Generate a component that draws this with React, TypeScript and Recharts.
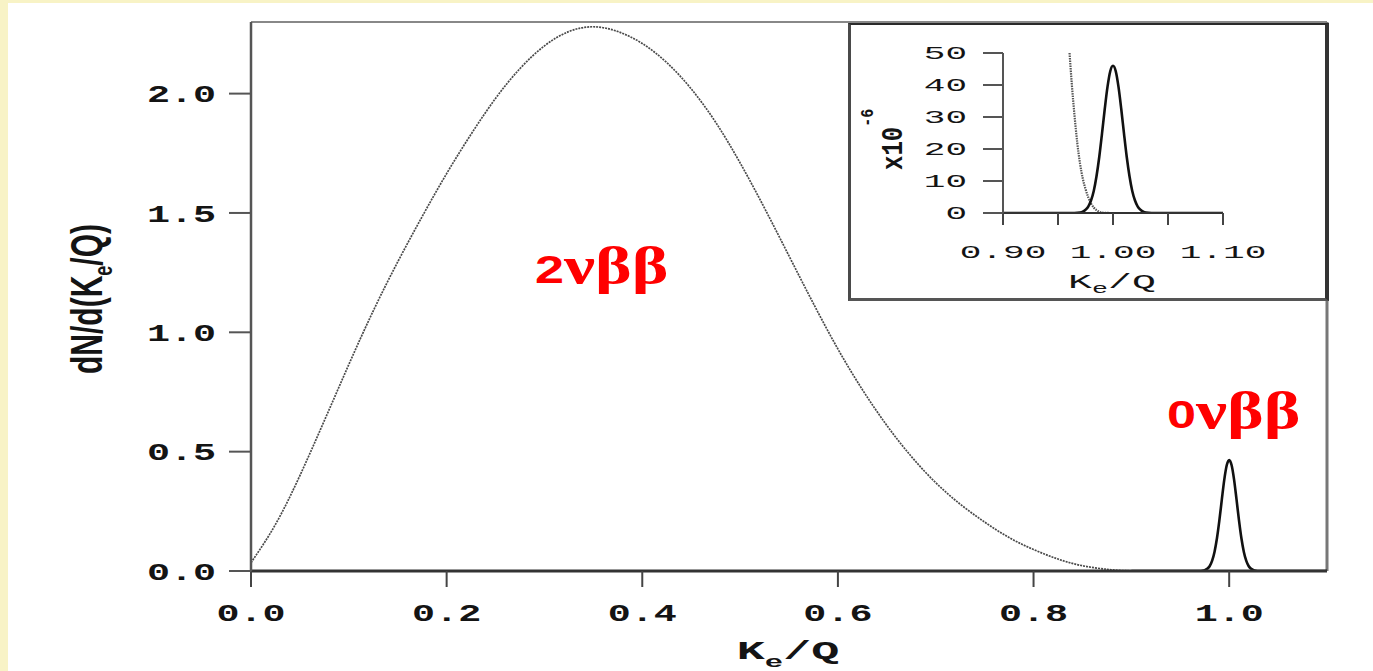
import React from 'react';
import { LineChart, Line, XAxis, YAxis, ReferenceLine } from 'recharts';

// Two-neutrino summed-electron spectrum, K_e/Q against dN/d(K_e/Q)
const twoNuK = [
  0, 0.025, 0.05, 0.075, 0.1, 0.125, 0.15, 0.175, 0.2, 0.225, 0.25, 0.275, 0.3, 0.325,
  0.35, 0.375, 0.4, 0.425, 0.45, 0.475, 0.5, 0.525, 0.55, 0.575, 0.6, 0.625, 0.65, 0.675,
  0.7, 0.725, 0.75, 0.775, 0.8, 0.825, 0.85, 0.875, 0.9, 0.95, 1.0, 1.05, 1.1,
];
const twoNuVal = [
  0.035, 0.195, 0.4, 0.63, 0.865, 1.09, 1.295, 1.485, 1.665, 1.83, 1.98, 2.105, 2.2, 2.26,
  2.28, 2.26, 2.21, 2.13, 2.02, 1.88, 1.71, 1.52, 1.32, 1.12, 0.93, 0.76, 0.61, 0.48,
  0.37, 0.28, 0.205, 0.14, 0.09, 0.05, 0.022, 0.007, 0.001, 0, 0, 0, 0,
];

// Neutrinoless peak at the endpoint (drawn enlarged on the main axes)
const zeroNuK = [
  0.9, 0.97, 0.9725, 0.975, 0.9775, 0.98, 0.9825, 0.985, 0.9875, 0.99, 0.9925, 0.995, 0.9975,
  1.0, 1.0025, 1.005, 1.0075, 1.01, 1.0125, 1.015, 1.0175, 1.02, 1.0225, 1.025, 1.0275, 1.03, 1.1,
];
const zeroNuVal = [
  0, 0, 0.001, 0.0035, 0.009, 0.02, 0.0425, 0.08, 0.137, 0.213, 0.3, 0.383, 0.443,
  0.465, 0.443, 0.383, 0.3, 0.213, 0.137, 0.08, 0.0425, 0.02, 0.009, 0.0035, 0.001, 0, 0,
];

// Inset, in units of 1e-6: tail of the two-neutrino spectrum
const insetTailK = [
  0.9605, 0.9625, 0.965, 0.9675, 0.97, 0.9725, 0.975, 0.9775, 0.98, 0.9825, 0.985, 0.9875,
  0.99, 0.995, 1.0, 1.05, 1.1,
];
const insetTailVal = [50, 40.5, 30.5, 22, 15.5, 10.8, 7.5, 4.9, 3.0, 1.7, 0.9, 0.4, 0.15, 0.02, 0, 0, 0];

// Inset, in units of 1e-6: the neutrinoless peak
const insetPeakK = [
  0.9, 0.965, 0.97, 0.9725, 0.975, 0.9775, 0.98, 0.9825, 0.985, 0.9875, 0.99, 0.9925, 0.995,
  0.9975, 1.0, 1.0025, 1.005, 1.0075, 1.01, 1.0125, 1.015, 1.0175, 1.02, 1.0225, 1.025, 1.0275,
  1.03, 1.035, 1.1,
];
const insetPeakVal = [
  0, 0, 0.15, 0.4, 1.0, 2.0, 3.9, 6.9, 11.5, 17.5, 24.8, 32.5, 39.4,
  44.3, 46, 44.3, 39.4, 32.5, 24.8, 17.5, 11.5, 6.9, 3.9, 2.0, 1.0, 0.4,
  0.15, 0, 0,
];

const mainXTicks = [0, 0.2, 0.4, 0.6, 0.8, 1.0];
const mainYTicks = [0, 0.5, 1.0, 1.5, 2.0];
const insetXTicks = [0.9, 0.95, 1.0, 1.05, 1.1];
const insetXLabelled = [0.9, 1.0, 1.1];
const insetYTicks = [0, 10, 20, 30, 40, 50];

const toRows = (ks: number[], vs: number[]) => ks.map((k, i) => ({ k, v: vs[i] }));
const twoNuData = toRows(twoNuK, twoNuVal);
const zeroNuData = toRows(zeroNuK, zeroNuVal);
const insetTailData = toRows(insetTailK, insetTailVal);
const insetPeakData = toRows(insetPeakK, insetPeakVal);

const MONO = '"Liberation Mono", "DejaVu Sans Mono", monospace';
const SANS = '"Liberation Sans", Arial, sans-serif';
const SERIF = '"Liberation Serif", "DejaVu Serif", serif';
const INK = '#141414';

const MainYTick = (p: any) => (
  <g transform={`translate(${p.x},${p.y}) scale(1.6,1)`}>
    <text x={0} y={0} dy="0.36em" textAnchor="end" fontFamily={MONO} fontWeight="bold" fontSize={24} fill={INK}>
      {Number(p.payload.value).toFixed(1)}
    </text>
  </g>
);

const MainXTick = (p: any) => (
  <g transform={`translate(${p.x},${p.y + 32}) scale(1.6,1)`}>
    <text x={0} y={0} textAnchor="middle" fontFamily={MONO} fontWeight="bold" fontSize={24} fill={INK}>
      {Number(p.payload.value).toFixed(1)}
    </text>
  </g>
);

const InsetYTick = (p: any) => (
  <g transform={`translate(${p.x},${p.y}) scale(2,1)`}>
    <text x={0} y={0} dy="0.36em" textAnchor="end" fontFamily={MONO} fontSize={18} fill={INK}>
      {String(p.payload.value)}
    </text>
  </g>
);

const InsetXTick = (p: any) => {
  const v = Number(p.payload.value);
  if (!insetXLabelled.some((t) => Math.abs(t - v) < 1e-9)) return <g />;
  return (
    <g transform={`translate(${p.x},${p.y + 31}) scale(1.9,1)`}>
      <text x={0} y={0} textAnchor="middle" fontFamily={MONO} fontSize={19} fill={INK}>
        {v.toFixed(2)}
      </text>
    </g>
  );
};

// Red process names: bold digit followed by serif Greek letters
const ProcessLabel = ({ x, y, digit }: { x: number; y: number; digit: string }) => (
  <text transform={`translate(${x},${y}) scale(1.45,1.1)`} fill="#ff0000" fontWeight="bold">
    <tspan fontFamily={SANS} fontSize={36}>{digit}</tspan>
    <tspan fontFamily={SERIF} fontSize={48}>νββ</tspan>
  </text>
);

export default function App() {
  return (
    <div style={{ position: 'fixed', left: 0, top: 0, width: 1373, height: 671, background: '#f8f3c6', overflow: 'hidden' }}>
      <div style={{ position: 'absolute', left: 8, top: 3, right: 0, bottom: 0, background: '#ffffff' }} />

      <div style={{ position: 'absolute', left: 0, top: 0 }}>
        <LineChart width={1373} height={671} margin={{ top: 22, right: 46, bottom: 40, left: 171 }}>
          <XAxis
            type="number"
            dataKey="k"
            domain={[0, 1.1]}
            ticks={mainXTicks}
            interval={0}
            allowDataOverflow
            height={60}
            tickSize={16}
            tickMargin={2}
            tick={MainXTick}
            axisLine={{ stroke: '#333', strokeWidth: 3 }}
            tickLine={{ stroke: '#444', strokeWidth: 2 }}
          />
          <YAxis
            type="number"
            domain={[0, 2.3]}
            ticks={mainYTicks}
            interval={0}
            allowDataOverflow
            width={80}
            tickSize={22}
            tickMargin={13}
            tick={MainYTick}
            axisLine={{ stroke: '#555', strokeWidth: 2.5 }}
            tickLine={{ stroke: '#555', strokeWidth: 2 }}
          />
          <ReferenceLine y={2.3} stroke="#888" strokeWidth={2} />
          <ReferenceLine x={1.1} stroke="#777" strokeWidth={3} />
          <Line
            data={twoNuData}
            dataKey="v"
            type="natural"
            stroke="#4a4a4a"
            strokeWidth={1.7}
            strokeDasharray="2 1"
            dot={false}
            activeDot={false}
            isAnimationActive={false}
          />
          <Line
            data={zeroNuData}
            dataKey="v"
            type="monotone"
            stroke="#111"
            strokeWidth={2.6}
            dot={false}
            activeDot={false}
            isAnimationActive={false}
          />

          <text transform="translate(788,659) scale(1.8,1)" textAnchor="middle" fontFamily={MONO} fontWeight="bold" fontSize={26} fill={INK}>
            K<tspan fontSize={17} dy={8}>e</tspan>
            <tspan dy={-8}>/Q</tspan>
          </text>
          <text transform="translate(102,299) scale(1.45,1) rotate(-90)" textAnchor="middle" fontFamily={SANS} fontWeight="bold" fontSize={30} fill={INK}>
            dN/d(K<tspan fontSize={18} dy={7}>e</tspan>
            <tspan dy={-7}>/Q)</tspan>
          </text>

          <ProcessLabel x={535} y={283} digit="2" />
          <ProcessLabel x={1167} y={428} digit="0" />
        </LineChart>
      </div>

      <div
        style={{
          position: 'absolute',
          left: 848,
          top: 23,
          width: 481,
          height: 278,
          boxSizing: 'border-box',
          background: '#ffffff',
          borderLeft: '3px solid #4a4a4a',
          borderTop: '2px solid #2a2a2a',
          borderRight: '4px solid #333',
          borderBottom: '3px solid #555',
        }}
      />

      <div style={{ position: 'absolute', left: 851, top: 25 }}>
        <LineChart width={473} height={272} margin={{ top: 28, right: 101, bottom: 44, left: 92 }}>
          <XAxis
            type="number"
            dataKey="k"
            domain={[0.9, 1.1]}
            ticks={insetXTicks}
            interval={0}
            allowDataOverflow
            height={40}
            tickSize={12}
            tickMargin={2}
            tick={InsetXTick}
            axisLine={{ stroke: '#333', strokeWidth: 2 }}
            tickLine={{ stroke: '#444', strokeWidth: 2 }}
          />
          <YAxis
            type="number"
            domain={[0, 50]}
            ticks={insetYTicks}
            interval={0}
            allowDataOverflow
            width={60}
            tickSize={20}
            tickMargin={16}
            tick={InsetYTick}
            axisLine={{ stroke: '#555', strokeWidth: 2 }}
            tickLine={{ stroke: '#555', strokeWidth: 2 }}
          />
          <Line
            data={insetTailData}
            dataKey="v"
            type="monotone"
            stroke="#555"
            strokeWidth={2.2}
            strokeDasharray="1.5 1"
            dot={false}
            activeDot={false}
            isAnimationActive={false}
          />
          <Line
            data={insetPeakData}
            dataKey="v"
            type="monotone"
            stroke="#111"
            strokeWidth={2.6}
            dot={false}
            activeDot={false}
            isAnimationActive={false}
          />

          <text transform="translate(261,263) scale(1.9,1)" textAnchor="middle" fontFamily={MONO} fontSize={21} fill={INK}>
            K<tspan fontSize={14} dy={5}>e</tspan>
            <tspan dy={-5}>/Q</tspan>
          </text>
          <text transform="translate(51,145) scale(1.2,1) rotate(-90)" textAnchor="start" fontFamily={MONO} fontWeight="bold" fontSize={24} fill={INK}>
            x10<tspan fontSize={15} dy={-24}>-6</tspan>
          </text>
        </LineChart>
      </div>
    </div>
  );
}
